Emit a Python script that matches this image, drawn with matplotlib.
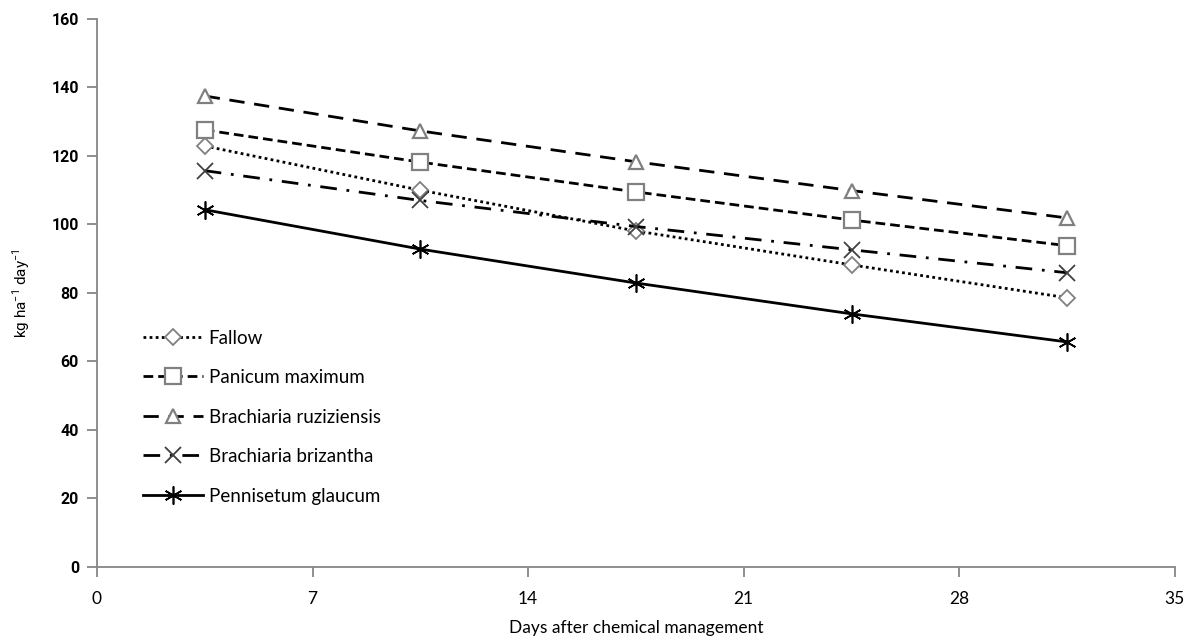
import matplotlib
matplotlib.use("Agg")
import matplotlib.pyplot as plt

days = [3.5, 10.5, 17.5, 24.5, 31.5]
fallow = [122.9, 110.0, 98.1, 88.2, 78.6]
panicum = [127.6, 118.2, 109.5, 101.3, 93.8]
ruziziensis = [137.5, 127.3, 118.3, 109.9, 101.9]
brizantha = [115.7, 107.0, 99.4, 92.6, 85.9]
pennisetum = [104.3, 92.8, 82.9, 73.9, 65.7]

labels = ["Fallow", "Panicum maximum", "Brachiaria ruziziensis",
          "Brachiaria brizantha", "Pennisetum glaucum"]
x_ticks = [0, 7, 14, 21, 28, 35]
y_ticks = [0, 20, 40, 60, 80, 100, 120, 140, 160]

narrow = ["Lato", "DejaVu Sans"]
arial = ["Roboto", "DejaVu Sans"]

fig = plt.figure(figsize=(11.94, 6.44), dpi=100)
ax = fig.add_axes([0.0812, 0.1196, 0.9028, 0.851])

grey = "#808080"
asterisk = (6, 2, 0)
series = [
    (fallow, dict(ls=(0, (1, 1.2)), marker="D", ms=8, mec=grey, mfc="white", mew=1.3)),
    (panicum, dict(ls=(0, (3.5, 1.8)), marker="s", ms=11, mec=grey, mfc="white", mew=1.6)),
    (ruziziensis, dict(ls=(0, (5.5, 3.5)), marker="^", ms=10, mec=grey, mfc="white", mew=1.6)),
    (brizantha, dict(ls=(0, (6, 3.5, 1, 3.5)), marker="x", ms=11, mec="#404040", mew=1.3)),
    (pennisetum, dict(ls="-", marker=asterisk, ms=13, mec="black", mew=1.2)),
]
handles = []
for (vals, st), lab in zip(series, labels):
    h, = ax.plot(days, vals, color="black", lw=2, label=lab, **st)
    handles.append(h)

ax.set_xlim(0, 35)
ax.set_ylim(0, 160)
ax.set_xticks(x_ticks)
ax.set_yticks(y_ticks)
for s in ["top", "right"]:
    ax.spines[s].set_visible(False)
for s in ["left", "bottom"]:
    ax.spines[s].set_color("#868686")
    ax.spines[s].set_linewidth(1.3)
ax.tick_params(axis="both", color="#868686", width=1.3, length=7, direction="out")
ax.tick_params(axis="x", pad=10, labelsize=12.5)
ax.tick_params(axis="y", pad=6, labelsize=11.5)
for t in ax.get_xticklabels():
    t.set_family(narrow)
for t in ax.get_yticklabels():
    t.set_family(arial)
    t.set_fontweight("bold")

ax.set_xlabel("Days after chemical management", fontsize=12.5, family=narrow, labelpad=10)
ax.set_ylabel("kg ha$^{\\mathregular{-1}}$ day$^{\\mathregular{-1}}$", fontsize=11, family=arial, labelpad=14)

leg = ax.legend(handles=handles, loc="upper left", bbox_to_anchor=(0.027, 0.464),
                frameon=False, handlelength=3.2, labelspacing=1.2,
                handletextpad=0.3, prop={"family": narrow, "size": 13.5})

fig.savefig("out.png", dpi=100)
